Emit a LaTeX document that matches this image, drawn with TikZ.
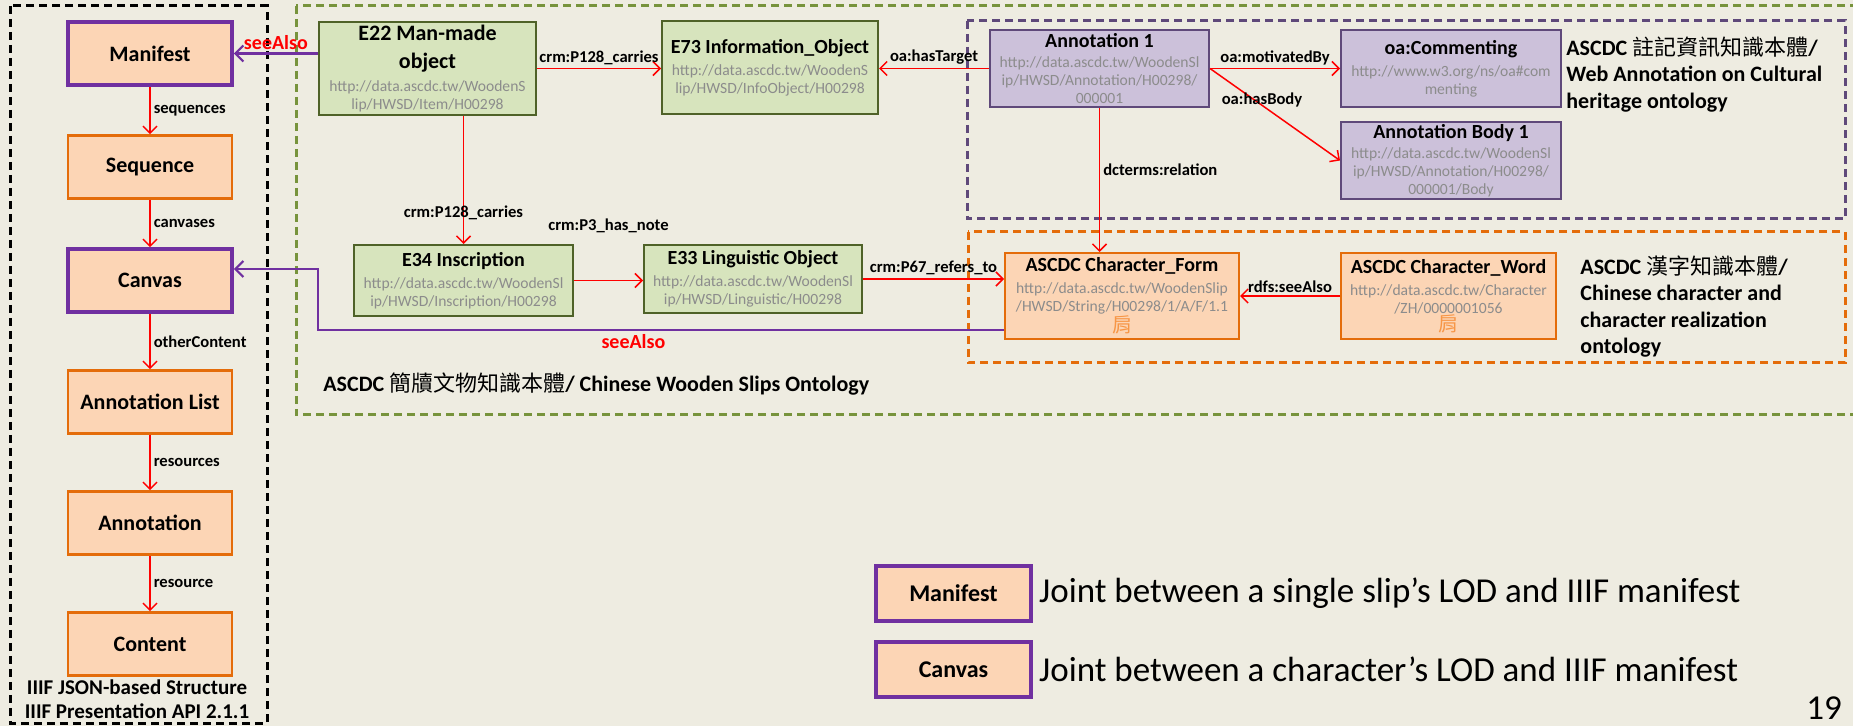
\documentclass[tikz,border=0pt]{standalone}
\usepackage{fontspec}
\setmainfont{Carlito}
\newfontfamily\cjk{Noto Sans CJK TC}
\usetikzlibrary{positioning,arrows.meta}
\definecolor{bgtan}{HTML}{EEECE1}
\definecolor{grnfill}{HTML}{D7E4BD}
\definecolor{grnline}{HTML}{4F6228}
\definecolor{purfill}{HTML}{CCC1DA}
\definecolor{purline}{HTML}{5F497A}
\definecolor{orgfill}{HTML}{FCD5B5}
\definecolor{orgline}{HTML}{E46C0A}
\definecolor{jpurple}{HTML}{7030A0}
\definecolor{urlgray}{HTML}{8C8C8C}
\definecolor{grnreg}{HTML}{77933C}
\definecolor{chr}{HTML}{F79646}
\newcommand{\uri}[1]{{\normalfont\fontsize{7.8}{9}\selectfont\color{urlgray}#1}}
\newcommand{\zi}{{\normalfont\cjk\fontsize{10}{9}\selectfont\color{chr}肩}}
\begin{document}
\begin{tikzpicture}[x=0.5pt, y=-0.5pt,
  iiif/.style = {draw=orgline, fill=orgfill, line width=1.3pt, minimum width=82pt, minimum height=31.5pt, inner sep=0pt, font=\bfseries\fontsize{11}{13}\selectfont},
  joint/.style = {draw=jpurple, line width=1.8pt},
  gbox/.style = {draw=grnline, fill=grnfill, line width=1pt, align=center, inner sep=1pt, font=\bfseries\fontsize{10}{9}\selectfont},
  pbox/.style = {gbox, draw=purline, fill=purfill},
  obox/.style = {gbox, draw=orgline, fill=orgfill},
  rel/.style = {draw=red, line width=0.75pt, -{Straight Barb[length=3.5pt,width=7pt]}},
  seeln/.style = {draw=jpurple, line width=1.1pt, -{Straight Barb[length=4pt,width=8pt]}},
  lab/.style = {font=\bfseries\fontsize{8.3}{10}\selectfont, inner sep=1.5pt},
  seelab/.style = {font=\bfseries\fontsize{10}{12}\selectfont, text=red, inner sep=1.5pt},
  ontlab/.style = {font=\bfseries\fontsize{11}{13.3}\selectfont, align=left, inner sep=0pt},
  legtxt/.style = {font=\fontsize{17.5}{20}\selectfont, inner sep=0pt},
  region/.style = {dash pattern=on 4pt off 2.5pt, line width=1.5pt}]
\useasboundingbox (0,0) rectangle (1853,726);
\fill[bgtan] (0,0) rectangle (1853,726);
% dashed ontology regions
\draw[region, black] (10,6) rectangle (267,723);
\draw[region, grnreg] (296,6) rectangle (1890,415);
\draw[region, purline] (967,21) rectangle (1845,219);
\draw[region, orgline] (968,232) rectangle (1845,363);

% IIIF structure
\node[iiif, joint] (mf) at (150,53.5) {Manifest};
\node[iiif] (sq) [below=23.7pt of mf] {Sequence};
\node[iiif, joint] (cv) [below=23.7pt of sq] {Canvas};
\node[iiif] (al) [below=27.7pt of cv] {Annotation List};
\node[iiif] (an) [below=27.7pt of al] {Annotation};
\node[iiif] (ct) [below=27.7pt of an] {Content};
\node[font=\bfseries\fontsize{10.5}{12}\selectfont, inner sep=0pt] (iiif1) at (137,687) {IIIF JSON-based Structure};
\node[font=\bfseries\fontsize{10.5}{12}\selectfont, inner sep=0pt] (iiif2) at (137,711) {IIIF Presentation API 2.1.1};
\draw[rel] (mf) -- (sq) node[midway, right, lab] {sequences};
\draw[rel] (sq) -- (cv) node[midway, right, lab] {canvases};
\draw[rel] (cv) -- (al) node[midway, right, lab] {otherContent};
\draw[rel] (al) -- (an) node[midway, right, lab] {resources};
\draw[rel] (an) -- (ct) node[midway, right, lab] {resource};

% wooden slips
\node[gbox, font=\bfseries\fontsize{11}{9}\selectfont, minimum width=108.5pt, minimum height=46.5pt] (e22) at (427.5,68.5) {E22 Man-made\\[5pt]object\\[2.5pt]\uri{http://data.ascdc.tw/WoodenS}\\\uri{lip/HWSD/Item/H00298}};
\node[gbox, minimum width=108pt, minimum height=46.5pt] (e73) at (770,67.5) {E73 Information\_Object\\[2pt]\uri{http://data.ascdc.tw/WoodenS}\\\uri{lip/HWSD/InfoObject/H00298}};
\node[gbox, minimum width=109.5pt, minimum height=35.5pt] (e34) at (463.5,280.5) {E34 Inscription\\[2pt]\uri{http://data.ascdc.tw/WoodenSl}\\\uri{ip/HWSD/Inscription/H00298}};
\node[gbox, minimum width=109pt, minimum height=34pt] (e33) at (753,279) {E33 Linguistic Object\\[2pt]\uri{http://data.ascdc.tw/WoodenSl}\\\uri{ip/HWSD/Linguistic/H00298}};

% web annotation
\node[pbox, minimum width=109.5pt, minimum height=38.5pt] (ann1) at (1099.5,68.5) {Annotation 1\\[1pt]\uri{http://data.ascdc.tw/WoodenSl}\\\uri{ip/HWSD/Annotation/H00298/}\\\uri{000001}};
\node[pbox, minimum width=110pt, minimum height=38.5pt] (comm) at (1451,68.5) {oa:Commenting\\[2pt]\uri{http://www.w3.org/ns/oa\#com}\\\uri{menting}};
\node[pbox, minimum width=110pt, minimum height=38.5pt] (body) at (1451,160.5) {Annotation Body 1\\[1pt]\uri{http://data.ascdc.tw/WoodenSl}\\\uri{ip/HWSD/Annotation/H00298/}\\\uri{000001/Body}};

% characters
\node[obox, minimum width=117pt, minimum height=43pt] (cf) at (1122,296) {ASCDC Character\_Form\\[2pt]\uri{http://data.ascdc.tw/WoodenSlip}\\\uri{/HWSD/String/H00298/1/A/F/1.1}\\\zi};
\node[obox, minimum width=107.5pt, minimum height=43pt] (cw) at (1448.5,296) {ASCDC Character\_Word\\[2pt]\uri{http://data.ascdc.tw/Character}\\\uri{/ZH/0000001056}\\\zi};

\node[ontlab, anchor=north west] (walab) at (1566,36) {ASCDC {\mdseries\cjk 註記資訊知識本體}/\\Web Annotation on Cultural\\heritage ontology};
\node[ontlab, anchor=north west] (chlab) at (1580,255) {ASCDC {\mdseries\cjk 漢字知識本體}/\\Chinese character and\\character realization\\ontology};
\node[ontlab, anchor=base west] (wslab) at (323,392) {ASCDC {\mdseries\cjk 簡牘文物知識本體}/ Chinese Wooden Slips Ontology};

\draw[seeln] (e22.west |- mf.east) -- (mf.east) node[midway, above, seelab] {seeAlso};
\draw[rel] (e22.east) -- (e22.east -| e73.west) node[midway, above, lab] {crm:P128\_carries};
\draw[rel] (ann1.west) -- (ann1.west -| e73.east) node[midway, above, lab] {oa:hasTarget};
\draw[rel] (ann1.east) -- (ann1.east -| comm.west) node[midway, above, lab] {oa:motivatedBy};
\draw[rel] (ann1.east) -- (body.west) node[pos=0.4, lab, yshift=2.5pt] {oa:hasBody};
\draw[rel] (ann1.south) -- (ann1.south |- cf.north) node[pos=0.43, right, lab] {dcterms:relation};
\draw[rel] (e22.south -| e34.north) -- (e34.north) node[pos=0.76, lab] {crm:P128\_carries};
\draw[rel] (e34.east) -- (e34.east -| e33.west) node[midway, above=22pt, lab] {crm:P3\_has\_note};
\draw[rel] (e33.east) -- (e33.east -| cf.west) node[midway, above, lab] {crm:P67\_refers\_to};
\draw[rel] (cw.west) -- (cw.west -| cf.east) node[midway, above, lab] {rdfs:seeAlso};
\draw[seeln] ([yshift=-17pt]cf.west) -| node[pos=0.27, below, seelab] {seeAlso} ([xshift=42pt, yshift=5.75pt]cv.east) -- ([yshift=5.75pt]cv.east);

% legend
\node[iiif, joint, minimum width=77.5pt, minimum height=27.5pt, font=\bfseries\fontsize{12}{14}\selectfont] (jm) at (953.5,593.5) {Manifest};
\node[iiif, joint, minimum width=77.5pt, minimum height=27.5pt, font=\bfseries\fontsize{12}{14}\selectfont] (jc) at (953.5,669.5) {Canvas};
\node[legtxt, right=3pt of jm] (jmtxt) {Joint between a single slip’s LOD and IIIF manifest};
\node[legtxt, right=3pt of jc] (jctxt) {Joint between a character’s LOD and IIIF manifest};
\node[legtxt, anchor=west] (pg) at (1806,708) {19};
\end{tikzpicture}
\end{document}
